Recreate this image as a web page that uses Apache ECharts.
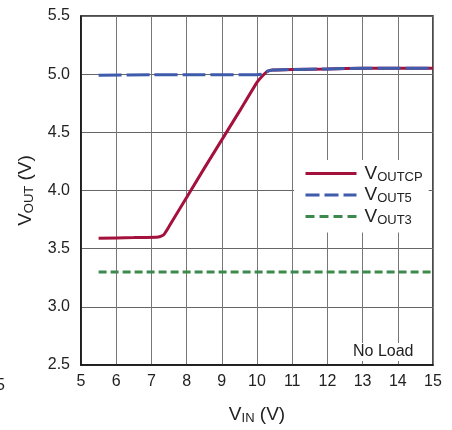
<!DOCTYPE html>
<html>
<head>
<meta charset="utf-8">
<style>
  html, body { margin: 0; padding: 0; background: #fff; }
  #chart { width: 452px; height: 430px; }
</style>
<script src="https://cdn.jsdelivr.net/npm/echarts@6/dist/echarts.min.js"></script>
</head>
<body>
<div id="chart"></div>
<script>
// Output voltages versus input voltage, no load
const xTicks = [5, 6, 7, 8, 9, 10, 11, 12, 13, 14, 15];
const yTicks = [2.5, 3.0, 3.5, 4.0, 4.5, 5.0, 5.5];

const voutcp = [
  [5.5, 3.59], [6.5, 3.595], [7.2, 3.6], [7.35, 3.62], [7.5, 3.69],
  [8.5, 4.19], [9.5, 4.68], [10.0, 4.93], [10.2, 5.0], [10.3, 5.025],
  [10.45, 5.035], [11, 5.04], [12, 5.045], [13, 5.05], [14, 5.05], [15, 5.05]
];
const vout5 = [
  [5.5, 4.99], [7, 4.995], [8.5, 4.995], [10.0, 4.995], [10.15, 5.0],
  [10.3, 5.025], [10.45, 5.035], [11, 5.04], [12, 5.045], [13, 5.05],
  [14, 5.05], [15, 5.05]
];
const vout3 = [
  [5.5, 3.3], [10, 3.3], [15, 3.3]
];

const FONT = '"Liberation Sans", Arial, sans-serif';
const RED = '#a3113c';
const BLUE = '#3f5bab';
const GREEN = '#3b8a4c';

const chart = echarts.init(document.getElementById('chart'));

const subRich = {
  v: { fontFamily: FONT, fontSize: 19, color: '#222' },
  s: { fontFamily: FONT, fontSize: 13, color: '#222', padding: [7, 0, 0, 0] }
};

chart.setOption({
  animation: false,
  backgroundColor: '#fff',
  grid: {
    left: 81, right: 19, top: 16, bottom: 61,
    show: true, borderColor: '#111', borderWidth: 1.5, backgroundColor: 'transparent'
  },
  xAxis: {
    type: 'value', min: 5, max: 15, interval: 1,
    axisLine: { show: true, lineStyle: { color: '#111', width: 1.5 } },
    axisTick: { show: false },
    splitLine: { show: true, lineStyle: { color: '#777', width: 1 } },
    axisLabel: {
      margin: 9, fontFamily: FONT, fontSize: 16, color: '#222',
      formatter: v => xTicks.includes(v) ? String(v) : ''
    },
    name: '{v|V}{s|IN}{v| (V)}',
    nameLocation: 'middle', nameGap: 40,
    nameTextStyle: { rich: subRich }
  },
  yAxis: {
    type: 'value', min: 2.5, max: 5.5, interval: 0.5,
    axisLine: { show: true, lineStyle: { color: '#111', width: 1.5 } },
    axisTick: { show: false },
    splitLine: { show: true, lineStyle: { color: '#666', width: 1 } },
    axisLabel: {
      margin: 11, fontFamily: FONT, fontSize: 16, color: '#222',
      formatter: v => yTicks.includes(+v.toFixed(1)) ? v.toFixed(1) : ''
    },
    name: '{v|V}{s|OUT}{v| (V)}',
    nameLocation: 'middle', nameGap: 45, nameRotate: 90,
    nameTextStyle: { rich: subRich }
  },
  legend: {
    show: true,
    orient: 'vertical',
    left: 294, top: 160,
    itemWidth: 51, itemHeight: 14, itemGap: 2,
    backgroundColor: '#fff',
    padding: [4, 6, 6, 10],
    itemStyle: { opacity: 0, borderWidth: 0 },
    textStyle: { rich: subRich, padding: [0, 0, 0, 3] },
    formatter: name => '{v|V}{s|' + name.slice(1) + '}',
    data: [
      { name: 'VOUTCP', lineStyle: { type: 'solid', width: 3 } },
      { name: 'VOUT5', lineStyle: { type: [14, 5], width: 3 } },
      { name: 'VOUT3', lineStyle: { type: [9, 5], width: 3 } }
    ]
  },
  graphic: [
    {
      type: 'text', left: 350, top: 343, z: 10,
      style: {
        text: 'No Load', fontFamily: FONT, fontSize: 16, fill: '#222',
        backgroundColor: '#fff', padding: [1, 3, 1, 3]
      }
    },
    {
      type: 'text', left: -4, top: 378, z: 10,
      style: { text: '5', fontFamily: FONT, fontSize: 16, fill: '#222' }
    }
  ],
  series: [
    {
      name: 'VOUT3', type: 'line', data: vout3, showSymbol: false, symbol: 'none', z: 2,
      lineStyle: { color: GREEN, width: 3, type: [8, 4] }, itemStyle: { color: GREEN }
    },
    {
      name: 'VOUTCP', type: 'line', data: voutcp, showSymbol: false, symbol: 'none', smooth: 0.15, z: 3,
      lineStyle: { color: RED, width: 3 }, itemStyle: { color: RED }
    },
    {
      name: 'VOUT5', type: 'line', data: vout5, showSymbol: false, symbol: 'none', smooth: 0.15, z: 4,
      lineStyle: { color: BLUE, width: 3, type: [23, 5] }, itemStyle: { color: BLUE }
    }
  ]
});
</script>
</body>
</html>
